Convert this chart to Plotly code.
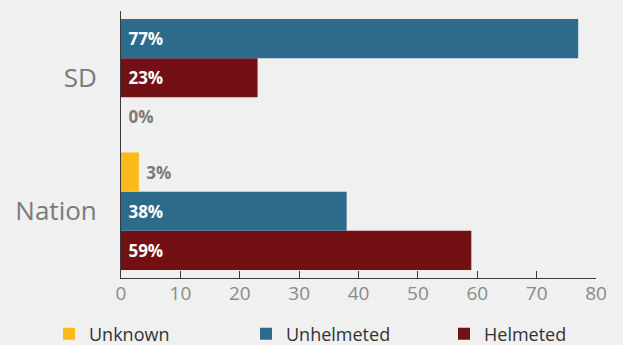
import plotly.graph_objects as go

categories = ["SD", "Nation"]
series_names = ["Unknown", "Unhelmeted", "Helmeted"]
unknown = [0, 3]
unhelmeted = [77, 38]
helmeted = [23, 59]
x_ticks = [0, 10, 20, 30, 40, 50, 60, 70, 80]

# top-to-bottom order of the bars inside each category band
band_order = {
    "SD": ["Unhelmeted", "Helmeted", "Unknown"],
    "Nation": ["Unknown", "Unhelmeted", "Helmeted"],
}

values = {"Unknown": unknown, "Unhelmeted": unhelmeted, "Helmeted": helmeted}
colors = {"Unknown": "#fbba1b", "Unhelmeted": "#2e6a8c", "Helmeted": "#731014"}
rank = {"Unknown": 1, "Unhelmeted": 2, "Helmeted": 3}
legend_of = {"Unknown": "legend", "Unhelmeted": "legend", "Helmeted": "legend2"}

FONT = "Open Sans"
BG = "#eff0ef"

fig = go.Figure()
shown = set()
for ci, cat in enumerate(categories):
    for slot, name in enumerate(reversed(band_order[cat])):
        v = values[name][ci]
        fig.add_trace(go.Bar(
            y=[cat], x=[v], orientation="h",
            name=name, legendgroup=name, legendrank=rank[name],
            legend=legend_of[name],
            showlegend=name not in shown,
            offsetgroup=str(slot),
            marker=dict(color=colors[name], line=dict(width=0)),
            text=["\u00a0" + f"{v}%"],
            textposition="inside" if v >= 10 else "outside",
            insidetextanchor="start",
            insidetextfont=dict(family=FONT, size=17, color="white", weight="bold"),
            outsidetextfont=dict(family=FONT, size=17, color="#7a7a7a", weight="bold"),
            cliponaxis=False,
            hoverinfo="skip",
        ))
        shown.add(name)

legend_style = dict(
    orientation="h", xref="container", yref="container",
    xanchor="left", yanchor="middle", y=11 / 345,
    font=dict(family=FONT, size=18, color="#333333"),
    entrywidth=152, entrywidthmode="pixels",
    traceorder="normal", bgcolor="rgba(0,0,0,0)",
)

fig.update_layout(
    width=623, height=345,
    paper_bgcolor=BG, plot_bgcolor=BG,
    barmode="group", bargap=0.119, bargroupgap=0,
    margin=dict(l=121, r=27, t=11, b=67, autoexpand=False),
    font=dict(family=FONT),
    legend=dict(legend_style, x=49 / 623),
    legend2=dict(legend_style, x=444 / 623),
)
fig.update_xaxes(
    range=[0, 80], tickvals=x_ticks, ticktext=[str(t) for t in x_ticks],
    showgrid=False, zeroline=False, automargin=False,
    showline=True, linecolor="#3a3a3a", linewidth=1,
    ticks="inside", ticklen=7, tickcolor="#3a3a3a", tickwidth=1,
    ticklabelstandoff=-2,
    tickfont=dict(family=FONT, size=19, color="#8a8a8a"),
    fixedrange=True,
)
fig.update_yaxes(
    categoryorder="array", categoryarray=list(reversed(categories)),
    showgrid=False, zeroline=False, automargin=False,
    showline=True, linecolor="#3a3a3a", linewidth=1,
    ticks="", ticklabelstandoff=18,
    tickfont=dict(family=FONT, size=26, color="#7a7a7a"),
    fixedrange=True,
)

fig.write_html(
    "out.html",
    config={"displayModeBar": False, "staticPlot": True},
    post_script="document.body.style.margin='0';document.body.style.background='" + BG + "';",
)
